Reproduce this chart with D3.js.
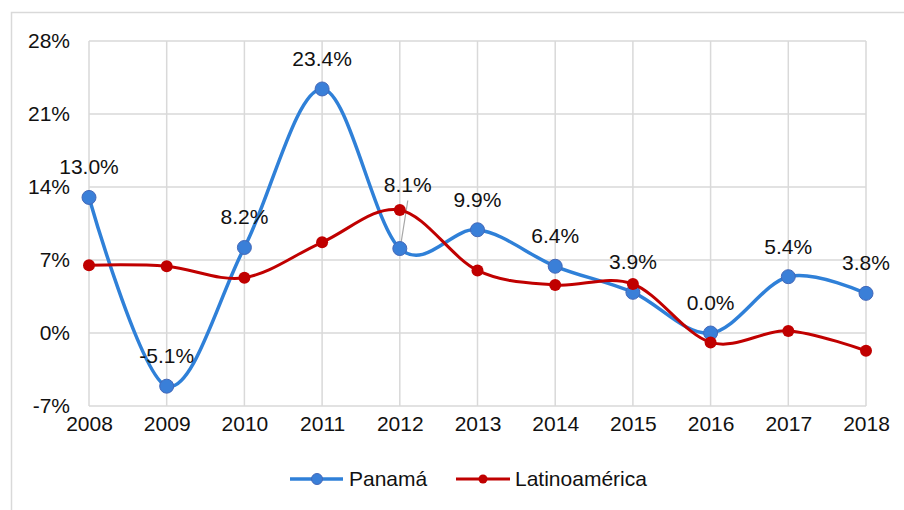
<!doctype html>
<html>
<head>
<meta charset="utf-8">
<script src="https://d3js.org/d3.v7.min.js"></script>
<style>
  body { margin: 0; background: #fff; }
  text { font-family: "Liberation Sans", Arial, sans-serif; fill: #111; }
</style>
</head>
<body>
<svg id="chart" width="904" height="510"></svg>
<script>
// data
var years = ["2008","2009","2010","2011","2012","2013","2014","2015","2016","2017","2018"]
var panama = [13.0, -5.1, 8.2, 23.4, 8.1, 9.9, 6.4, 3.9, 0.0, 5.4, 3.8]
var latam = [6.5, 6.4, 5.3, 8.7, 11.8, 6.0, 4.6, 4.7, -0.9, 0.2, -1.7]
var yTicks = [-7, 0, 7, 14, 21, 28]
var seriesNames = ["Panamá", "Latinoamérica"]

var svg = d3.select("#chart")

// chart border (runs off the right and bottom edge)
svg.append("rect").attr("x", 11.5).attr("y", 12.5).attr("width", 1000).attr("height", 600)
    .attr("fill", "none").attr("stroke", "#d9d9d9").attr("stroke-width", 1.5)

var x = d3.scalePoint().domain(years).range([89, 866])
var y = d3.scaleLinear().domain([-7, 28]).range([406, 41])

// grid
svg.append("g").selectAll("line").data(yTicks).enter().append("line")
    .attr("x1", 89).attr("x2", 866)
    .attr("y1", function(d){ return y(d) }).attr("y2", function(d){ return y(d) })
    .attr("stroke", "#d9d9d9").attr("stroke-width", 1.5)
svg.append("g").selectAll("line").data(years).enter().append("line")
    .attr("x1", function(d){ return x(d) }).attr("x2", function(d){ return x(d) })
    .attr("y1", 41).attr("y2", 406)
    .attr("stroke", "#d9d9d9").attr("stroke-width", 1.5)

// axes
var yAxis = svg.append("g").attr("transform", "translate(89,0)")
    .call(d3.axisLeft(y).tickValues(yTicks).tickFormat(function(d){ return d + "%" }).tickSize(0).tickPadding(19))
yAxis.select(".domain").remove()
yAxis.selectAll("text").style("font-size", "21px").attr("fill", "#111")

var xAxis = svg.append("g").attr("transform", "translate(0,406)")
    .call(d3.axisBottom(x).tickSize(0).tickPadding(10))
xAxis.select(".domain").remove()
xAxis.selectAll("text").style("font-size", "21px").attr("fill", "#111")

var line = d3.line()
    .x(function(d, i){ return x(years[i]) })
    .y(function(d){ return y(d) })
    .curve(d3.curveCardinal.tension(0))

// Panamá
svg.append("path").datum(panama).attr("d", line)
    .attr("fill", "none").attr("stroke", "#2f80d8").attr("stroke-width", 3.5)

// leader line for 2012 label
svg.append("line")
    .attr("x1", x("2012") + 8).attr("y1", y(8.1) - 48)
    .attr("x2", x("2012") + 1).attr("y2", y(8.1) - 4)
    .attr("stroke", "#a6a6a6").attr("stroke-width", 1.2)

svg.append("g").selectAll("circle").data(panama).enter().append("circle")
    .attr("cx", function(d, i){ return x(years[i]) })
    .attr("cy", function(d){ return y(d) })
    .attr("r", 7)
    .attr("fill", "#3a7fd8").attr("stroke", "#4468b8").attr("stroke-width", 1)

// Latinoamérica
svg.append("path").datum(latam).attr("d", line)
    .attr("fill", "none").attr("stroke", "#c00000").attr("stroke-width", 3)
svg.append("g").selectAll("circle").data(latam).enter().append("circle")
    .attr("cx", function(d, i){ return x(years[i]) })
    .attr("cy", function(d){ return y(d) })
    .attr("r", 6)
    .attr("fill", "#c00000")

// data labels for Panamá
svg.append("g").selectAll("text").data(panama).enter().append("text")
    .attr("x", function(d, i){ return x(years[i]) + (years[i] == "2012" ? 8 : 0) })
    .attr("y", function(d, i){ return y(d) - (years[i] == "2012" ? 57 : 23) })
    .attr("text-anchor", "middle")
    .style("font-size", "21px")
    .text(function(d){ return d.toFixed(1) + "%" })

// legend
var legend = svg.append("g").attr("transform", "translate(0,479)")
var lg1 = legend.append("g").attr("transform", "translate(290,0)")
lg1.append("line").attr("x1", 0).attr("x2", 53).attr("stroke", "#2f80d8").attr("stroke-width", 3.5)
lg1.append("circle").attr("cx", 27).attr("r", 5.5).attr("fill", "#3a7fd8").attr("stroke", "#4468b8")
lg1.append("text").attr("x", 59).attr("y", 7).style("font-size", "21px").text(seriesNames[0])

var lg2 = legend.append("g").attr("transform", "translate(456,0)")
lg2.append("line").attr("x1", 0).attr("x2", 54).attr("stroke", "#c00000").attr("stroke-width", 3)
lg2.append("circle").attr("cx", 27).attr("r", 4.5).attr("fill", "#c00000")
lg2.append("text").attr("x", 59).attr("y", 7).style("font-size", "21px").text(seriesNames[1])
</script>
</body>
</html>
